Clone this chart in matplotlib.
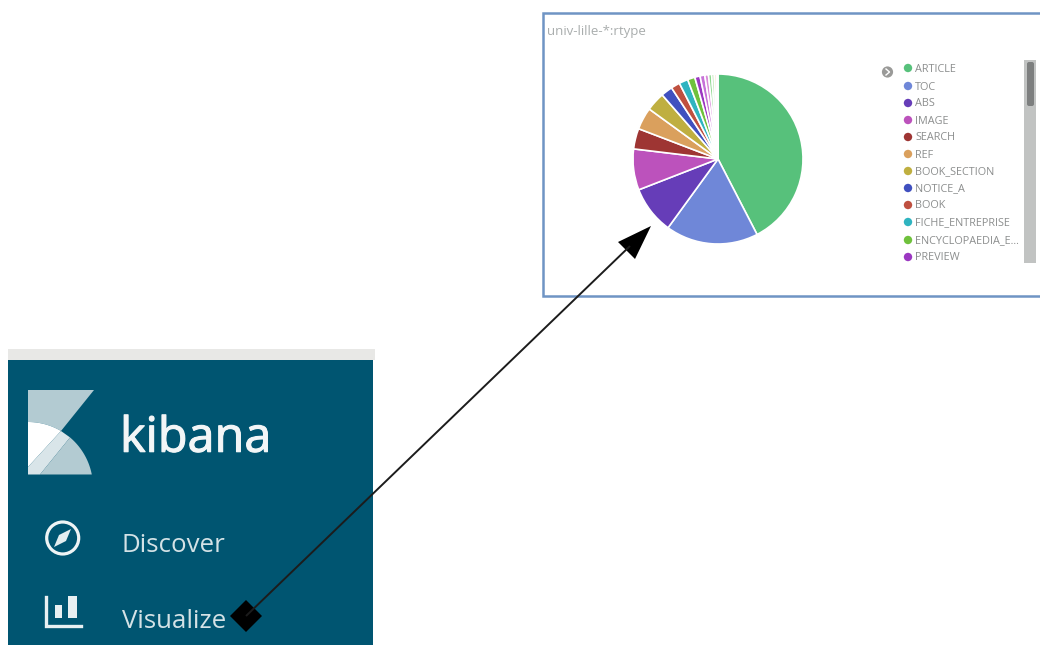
import numpy as np
import matplotlib
matplotlib.use("Agg")
import matplotlib.pyplot as plt
import matplotlib.patheffects as pe
from matplotlib.patches import Polygon, Rectangle, Circle, FancyBboxPatch

W, H = 1040, 645

# ---- data ----
rtype_labels = ["ARTICLE", "TOC", "ABS", "IMAGE", "SEARCH", "REF", "BOOK_SECTION",
                "NOTICE_A", "BOOK", "FICHE_ENTREPRISE", "ENCYCLOPAEDIA_E...", "PREVIEW"]
rtype_values = [42.4, 17.6, 9.1, 7.8, 3.9, 4.2, 3.6, 2.2, 1.7, 1.7, 1.4, 1.0]
hidden_values = [0.9, 0.7, 0.6, 0.5, 0.4, 0.3]
rtype_colors = ["#57c17b", "#6f87d8", "#663db8", "#bc52bc", "#9e3533", "#daa05d",
                "#bfaf40", "#4050bf", "#bf5040", "#2fb4c0", "#6fc13c", "#9b37c1"]
hidden_colors = ["#c771d8", "#d98ad9", "#8fd88f", "#b5e3a8", "#eec38f", "#c6d2f0"]
menu_labels = ["Discover", "Visualize"]
chart_title = "univ-lille-*:rtype"
brand = "kibana"

plt.rcParams['font.family'] = ['Open Sans', 'DejaVu Sans']

fig = plt.figure(figsize=(W / 100, H / 100), dpi=100)
ax = fig.add_axes([0, 0, 1, 1])


def Y(py):
    return H - py


def pts(seq):
    return [(x, Y(y)) for x, y in seq]


def arc(cx, cy, r, a0, a1, n=30):
    t = np.radians(np.linspace(a0, a1, n))
    return [(cx + r * np.cos(t_), cy - r * np.sin(t_)) for t_ in t]


# ---- sidebar ----
ax.add_patch(Rectangle((8, Y(360)), 367, 11, fc="#e8e8e6", ec="none"))
ax.add_patch(Rectangle((8, 0), 365, Y(360), fc="#005571", ec="none"))

# logo
logo_dark = "#b3cbd2"
logo_pale = "#d9e5e9"
# circle that forms the logo's curved edge
acx, acy, ar = 28.0, 487.0, 65.0
curve_top = arc(acx, acy, ar, 90, 59.5)
curve_right = arc(acx, acy, ar, 49.7, 11.1)
junction = curve_top[-1]
elbow = curve_right[0]
ax.add_patch(Polygon(pts([(28, 390), (94, 390)] + curve_top[::-1]), fc=logo_dark, ec="none"))
ax.add_patch(Polygon(pts(curve_top + [(28, 467)]), fc="white", ec="none"))
ax.add_patch(Polygon(pts([junction, elbow, (40, 474.5), (28, 474.5), (28, 467)]), fc=logo_pale, ec="none"))
ax.add_patch(Polygon(pts(curve_right + [(40, 474.5)]), fc=logo_dark, ec="none"))

ax.text(120, Y(439), brand, color="#f2f6f7", fontsize=35, va="center", ha="left",
        path_effects=[pe.withStroke(linewidth=0.8, foreground="#f2f6f7")])

menu_ys = [545, 621]
for lab, my in zip(menu_labels, menu_ys):
    ax.text(122, Y(my), lab, color="#d4e2e6", fontsize=18.6, va="center", ha="left")

# compass icon
ax.add_patch(Circle((62.7, Y(538)), 16, fc="none", ec="#eef4f5", lw=2.3))
ax.add_patch(Polygon(pts([(71, 529), (66, 541), (54, 547), (59, 535)]), fc="#e4eef0", ec="none"))

# bar chart icon
ax.plot([46, 46, 81], [Y(597), Y(626), Y(626)], color="#e8f0f2", lw=2.4, solid_joinstyle="miter")
ax.add_patch(Rectangle((55, Y(618)), 7, 13, fc="#e8f0f2", ec="none"))
ax.add_patch(Rectangle((68, Y(618)), 9, 22, fc="#e8f0f2", ec="none"))

# ---- chart panel ----
ax.add_patch(Rectangle((543, Y(296)), 520, 283, fc="white", ec="#6f94c4", lw=1.8))
ax.text(547, Y(32), chart_title, color="#a9adad", fontsize=9.5, va="center", ha="left")

# pie
ax.pie(rtype_values + hidden_values,
       colors=rtype_colors + hidden_colors,
       center=(718, Y(159)), radius=85,
       startangle=90, counterclock=False,
       wedgeprops=dict(edgecolor="white", linewidth=1.2))

# legend
legend_ys = [68, 86, 103, 120, 137, 154, 171, 188, 205, 222, 240, 257]
for lab, col, ly in zip(rtype_labels, rtype_colors, legend_ys):
    ax.add_patch(Circle((908, Y(ly)), 4.2, fc=col, ec="none"))
    ax.text(915, Y(ly + 1), lab, color="#8c8e8e", fontsize=7.8, va="center", ha="left")

# legend toggle icon
ax.add_patch(Circle((887.5, Y(72)), 5.6, fc="#9a9a98", ec="none"))
ax.plot([886, 889.5, 886], [Y(69), Y(72), Y(75)], color="white", lw=1.0)

# scrollbar
ax.add_patch(Rectangle((1024, Y(263)), 12, 203, fc="#c1c3c2", ec="none"))
ax.add_patch(FancyBboxPatch((1027, Y(106)), 7, 44, boxstyle="round,pad=0,rounding_size=2",
                            fc="#7d7f7f", ec="none"))

# ---- arrow ----
ax.plot([246, 630], [Y(616), Y(246)], color="#1c1c1c", lw=1.4, solid_capstyle="butt")
ax.add_patch(Polygon(pts([(651, 226), (618, 242), (635, 259)]), fc="black", ec="none"))
ax.add_patch(Polygon(pts([(246, 600), (262, 616), (246, 632), (230, 616)]), fc="black", ec="none"))

ax.set_aspect("equal")
ax.set_xlim(0, W)
ax.set_ylim(0, H)
ax.axis("off")
fig.savefig("out.png", dpi=100, facecolor="white")
